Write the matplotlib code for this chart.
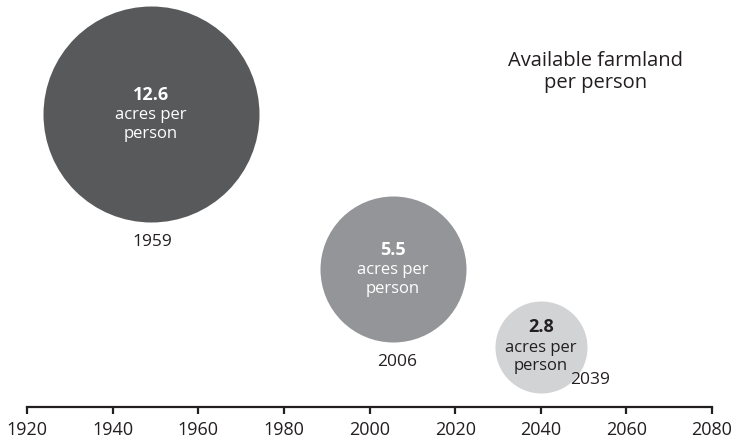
import matplotlib
matplotlib.use("Agg")
import matplotlib.pyplot as plt

###
### Data
###
values      = [12.6, 5.5, 2.8]            # acres per person
year_labels = ["1959", "2006", "2039"]
positions   = [1949, 2005.4, 2040]        # where each bubble sits on the time axis
axis_ticks  = [1920, 1940, 1960, 1980, 2000, 2020, 2040, 2060, 2080]
title_text  = "Available farmland\nper person"

###
### Styles / layout (pixel based, figure is 735x442 at dpi 100)
###
plt.rcParams['font.family'] = ['Open Sans', 'DejaVu Sans']
colors     = ["#58595b", "#939598", "#d1d3d4"]
txt_colors = ["white", "white", "#231f20"]
radius_px  = [108, 73, 46]
center_y   = [114, 269, 346.5]
label_xy   = [(1949.2, 242), (2006.4, 362), (2051.5, 380)]
axis_y     = 407

W, H, DPI = 735, 442, 100
px_per_year = (712 - 27) / 160.0
x0 = 1920 - 27 / px_per_year
x1 = x0 + W / px_per_year

fig = plt.figure(figsize=(W / DPI, H / DPI), dpi=DPI)
ax = fig.add_axes([0, 0, 1, 1])
ax.set_xlim(x0, x1)
ax.set_ylim(H, 0)

# bubbles
for x, y, r, c in zip(positions, center_y, radius_px, colors):
    d_pt = 2 * r * 72.0 / DPI
    ax.scatter([x], [y], s=d_pt ** 2, color=c, linewidths=0, zorder=2)

# text inside bubbles
for x, y, v, tc in zip(positions, center_y, values, txt_colors):
    ax.text(x, y - 19, "{:.1f}".format(v), ha='center', va='center',
            fontsize=13, fontweight='bold', color=tc, zorder=3)
    ax.text(x, y + 1, "acres per", ha='center', va='center',
            fontsize=12, color=tc, zorder=3)
    ax.text(x, y + 20, "person", ha='center', va='center',
            fontsize=12, color=tc, zorder=3)

# year labels
for (lx, ly), lab in zip(label_xy, year_labels):
    ax.text(lx, ly, lab, ha='center', va='center', fontsize=12.5,
            color='#231f20', zorder=3)

# title
ax.text(2052.7, 72, title_text, ha='center', va='center', fontsize=14.5,
        color='#231f20', linespacing=1.15)

# time axis
for s in ['top', 'right', 'left']:
    ax.spines[s].set_visible(False)
ax.spines['bottom'].set_position(('data', axis_y))
ax.spines['bottom'].set_bounds(axis_ticks[0], axis_ticks[-1])
ax.spines['bottom'].set_linewidth(1.6)
ax.spines['bottom'].set_color('#231f20')
ax.set_xticks(axis_ticks)
ax.set_xticklabels([str(t) for t in axis_ticks])
ax.tick_params(axis='x', direction='out', length=5, width=1.6,
               color='#231f20', labelsize=13, labelcolor='#231f20', pad=5)
ax.set_yticks([])
ax.patch.set_visible(False)

fig.savefig("out.png", dpi=DPI)
